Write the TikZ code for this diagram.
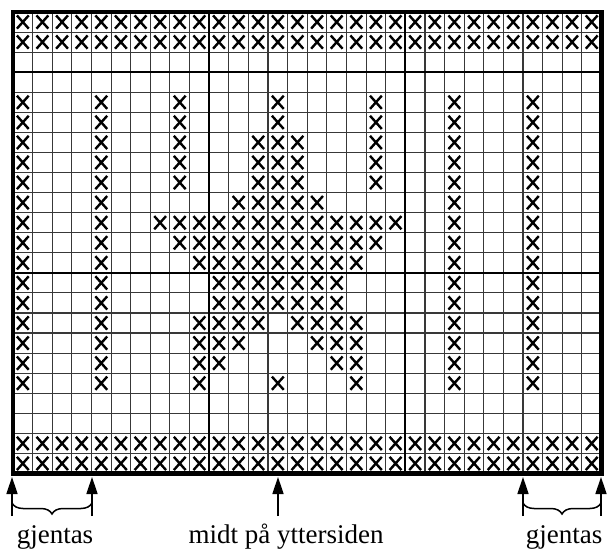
\documentclass[tikz,border=0pt]{standalone}
\usepackage{fontspec}
\setmainfont{Liberation Serif}
\usetikzlibrary{arrows.meta,decorations.pathreplacing}
\begin{document}
\begin{tikzpicture}[x=1pt,y=-1pt,
  thingrid/.style={line width=1.1pt, black!78},
  thickdiv/.style={line width=2.3pt, black},
  border/.style={line width=4.8pt, black},
  xline/.style={line width=2.4pt, black, line cap=butt},
  arr/.style={line width=1.5pt, -{Triangle[length=17pt,width=11pt]}},
  brc/.style={line width=1.5pt, decorate, decoration={brace,mirror,amplitude=11pt}},
  lbl/.style={font=\fontsize{27}{30}\selectfont, anchor=base, inner sep=0pt},
  xm/.pic={\draw[xline] (-5.9,-6.6) -- (5.9,6.6) (-5.9,6.6) -- (5.9,-6.6);}
]
\useasboundingbox (0,0) rectangle (608,553);
% crosses
\foreach \r in {1,2,22,23}
  \foreach \c in {1,...,30}
    \pic at ({13+(\c-0.5)*19.617},{12+(\r-0.5)*20.065}) {xm};
\foreach \r/\cs in {
  5/{1,5,9,14,19,23,27},
  6/{1,5,9,14,19,23,27},
  7/{1,5,9,13,14,15,19,23,27},
  8/{1,5,9,13,14,15,19,23,27},
  9/{1,5,9,13,14,15,19,23,27},
  10/{1,5,12,13,14,15,16,23,27},
  11/{1,5,8,9,10,11,12,13,14,15,16,17,18,19,20,23,27},
  12/{1,5,9,10,11,12,13,14,15,16,17,18,19,23,27},
  13/{1,5,10,11,12,13,14,15,16,17,18,23,27},
  14/{1,5,11,12,13,14,15,16,17,23,27},
  15/{1,5,11,12,13,14,15,16,17,23,27},
  16/{1,5,10,11,12,13,15,16,17,18,23,27},
  17/{1,5,10,11,12,16,17,18,23,27},
  18/{1,5,10,11,17,18,23,27},
  19/{1,5,10,14,18,23,27}}
  \foreach \c in \cs
    \pic at ({13+(\c-0.5)*19.617},{12+(\r-0.5)*20.065}) {xm};
% thin grid
\foreach \i in {1,...,29}
  \draw[thingrid] ({13+\i*19.617},12) -- ({13+\i*19.617},473.5);
\foreach \j in {1,...,22}
  \draw[thingrid] (13,{12+\j*20.065}) -- (601.5,{12+\j*20.065});
% thick dividers
\draw[thickdiv] (209.17,12) -- (209.17,473.5);
\draw[thickdiv] (405.34,12) -- (405.34,473.5);
\draw[thickdiv] (13,72.2) -- (601.5,72.2);
\draw[thickdiv] (13,272.85) -- (601.5,272.85);
% border
\node[draw, border, inner sep=0pt, minimum width=588.5pt, minimum height=461.5pt] (chart) at (307.25,242.75) {};
% arrows
\coordinate (a1b) at (12,516);   \coordinate (a1t) at (12,477);
\coordinate (a2b) at (92,516);   \coordinate (a2t) at (92,477);
\coordinate (a3b) at (278,516);  \coordinate (a3t) at (278,477);
\coordinate (a4b) at (523,516);  \coordinate (a4t) at (523,477);
\coordinate (a5b) at (601,516);  \coordinate (a5t) at (601,477);
\draw[arr] (a1b) -- (a1t);
\draw[arr] (a2b) -- (a2t);
\draw[arr] (a3b) -- (a3t);
\draw[arr] (a4b) -- (a4t);
\draw[arr] (a5b) -- (a5t);
% braces
\coordinate (b1l) at (12,503);  \coordinate (b1r) at (92,503);
\coordinate (b2l) at (523,503); \coordinate (b2r) at (601,503);
\draw[brc] (b1l) -- (b1r);
\draw[brc] (b2l) -- (b2r);
% labels
\node[lbl] (g1) at (55,543) {gjentas};
\node[lbl] (mid) at (286,543) {midt på yttersiden};
\node[lbl] (g2) at (564,543) {gjentas};
\end{tikzpicture}
\end{document}
